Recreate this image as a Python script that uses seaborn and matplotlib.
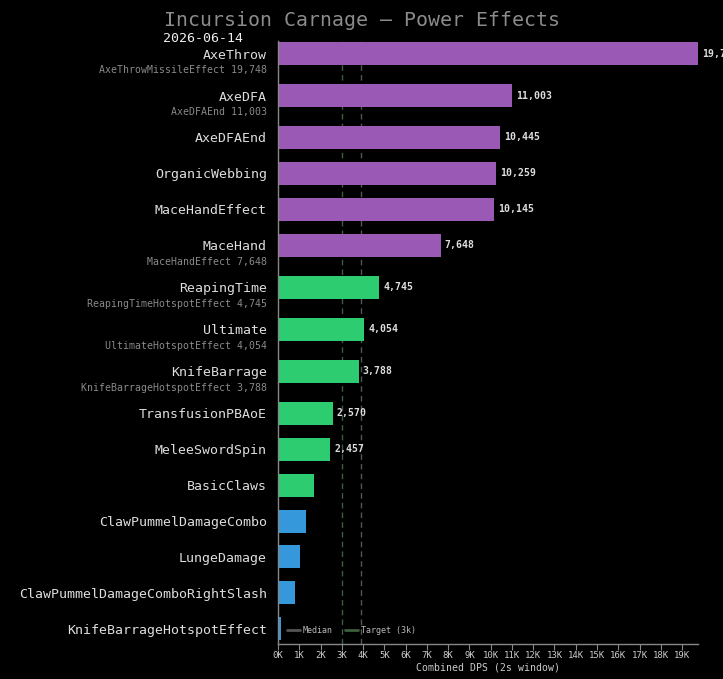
import numpy as np
import pandas as pd
import matplotlib
matplotlib.use("Agg")
import matplotlib.pyplot as plt
from matplotlib.lines import Line2D
from matplotlib.ticker import MultipleLocator, FuncFormatter
import seaborn as sns

# dati
powers = ["AxeThrow", "AxeDFA", "AxeDFAEnd", "OrganicWebbing", "MaceHandEffect",
          "MaceHand", "ReapingTime", "Ultimate", "KnifeBarrage", "TransfusionPBAoE",
          "MeleeSwordSpin", "BasicClaws", "ClawPummelDamageCombo", "LungeDamage",
          "ClawPummelDamageComboRightSlash", "KnifeBarrageHotspotEffect"]
dps = [19748, 11003, 10445, 10259, 10145, 7648, 4745, 4054, 3788, 2570,
       2457, 1690, 1320, 1040, 800, 150]
tiers = ["high"] * 6 + ["mid"] * 6 + ["low"] * 4
sub_effects = ["AxeThrowMissileEffect", "AxeDFAEnd", "", "", "", "MaceHandEffect",
               "ReapingTimeHotspotEffect", "UltimateHotspotEffect",
               "KnifeBarrageHotspotEffect", "", "", "", "", "", "", ""]
sub_dps = [19748, 11003, 0, 0, 0, 7648, 4745, 4054, 3788, 0, 0, 0, 0, 0, 0, 0]
target = 3000
title = "Incursion Carnage \u2014 Power Effects"
date = "2026-06-14"

tier_colors = {"high": "#9b59b6", "mid": "#2ecc71", "low": "#3498db"}

# posizioni: spazio extra sotto le barre con sottoetichetta
pos = []
y = 0.0
for i, s in enumerate(sub_effects):
    pos.append(y)
    y += 1.0 + (1 / 6 if s else 0.0)

df = pd.DataFrame({"power": powers, "dps": dps, "tier": tiers, "pos": pos})

sns.set_style("dark", {"axes.facecolor": "black", "figure.facecolor": "black"})
plt.rcParams["font.family"] = ["DejaVu Sans Mono", "DejaVu Sans"]

fig = plt.figure(figsize=(7.23, 6.79), dpi=100, facecolor="black")
ax = fig.add_axes([278 / 723, 35 / 679, 420 / 723, 603 / 679])
ax.set_facecolor("black")

median = float(np.median(dps))
ax.axvline(target, color="#3d5e3d", ls=(0, (4, 3)), lw=1, zorder=0.5)
ax.axvline(median, color="#555555", ls=(0, (4, 3)), lw=1, zorder=0.5)

sns.barplot(data=df, x="dps", y="pos", hue="tier", palette=tier_colors,
            orient="h", native_scale=True, dodge=False, width=0.64,
            legend=False, saturation=1, ax=ax, zorder=2,
            edgecolor="none", linewidth=0)

ax.set_xlim(0, max(dps))
ax.set_ylim(pos[-1] + 0.42, -0.35)

ax.set_yticks(pos)
ax.set_yticklabels(powers, fontsize=9.5, color="#dddddd")
ax.tick_params(axis="y", length=0, pad=8)

ax.xaxis.set_major_locator(MultipleLocator(1000))
ax.xaxis.set_major_formatter(FuncFormatter(lambda v, p: f"{int(round(v / 1000))}K"))
ax.tick_params(axis="x", labelsize=6.5, labelcolor="#cccccc", color="#888888",
               length=4, width=0.8, pad=1, bottom=True)
ax.set_xlabel("Combined DPS (2s window)", fontsize=7.1, color="#cccccc", labelpad=2)
ax.set_ylabel("")
ax.grid(False)

for side in ["top", "right"]:
    ax.spines[side].set_visible(False)
for side in ["left", "bottom"]:
    ax.spines[side].set_visible(True)
    ax.spines[side].set_color("#888888")
    ax.spines[side].set_linewidth(1)

# valori a fine barra
for v, p in zip(dps, pos):
    if v >= 2000:
        ax.annotate(f"{v:,}", xy=(v, p), xytext=(3, 0), textcoords="offset points",
                    va="center", ha="left", fontsize=7.1, fontweight="bold",
                    color="#dddddd", annotation_clip=False)

# sottoetichette
for s, sv, p in zip(sub_effects, sub_dps, pos):
    if s:
        ax.annotate(f"{s} {sv:,}", xy=(0, p + 0.47), xycoords=("axes fraction", "data"),
                    xytext=(-8, 0), textcoords="offset points", ha="right", va="center",
                    fontsize=7.1, color="#8a8a8a", annotation_clip=False)

handles = [Line2D([], [], color="#555555", lw=2),
           Line2D([], [], color="#3d5e3d", lw=2)]
leg = ax.legend(handles, ["Median", f"Target ({target // 1000}k)"], loc="lower left",
                bbox_to_anchor=(0.0, 0.0), ncol=2, frameon=False, fontsize=6,
                handlelength=1.5, handletextpad=0.4, columnspacing=1.5,
                borderaxespad=0.7)
for t in leg.get_texts():
    t.set_color("#bbbbbb")

fig.text(0.5, 1 - 20 / 679, title, ha="center", va="center", fontsize=14.3,
         color="#8c8c8c")
fig.text(163 / 723, 1 - 39 / 679, date, ha="left", va="center", fontsize=9.5,
         color="#eeeeee")

fig.savefig("out.png", dpi=100, facecolor="black")
